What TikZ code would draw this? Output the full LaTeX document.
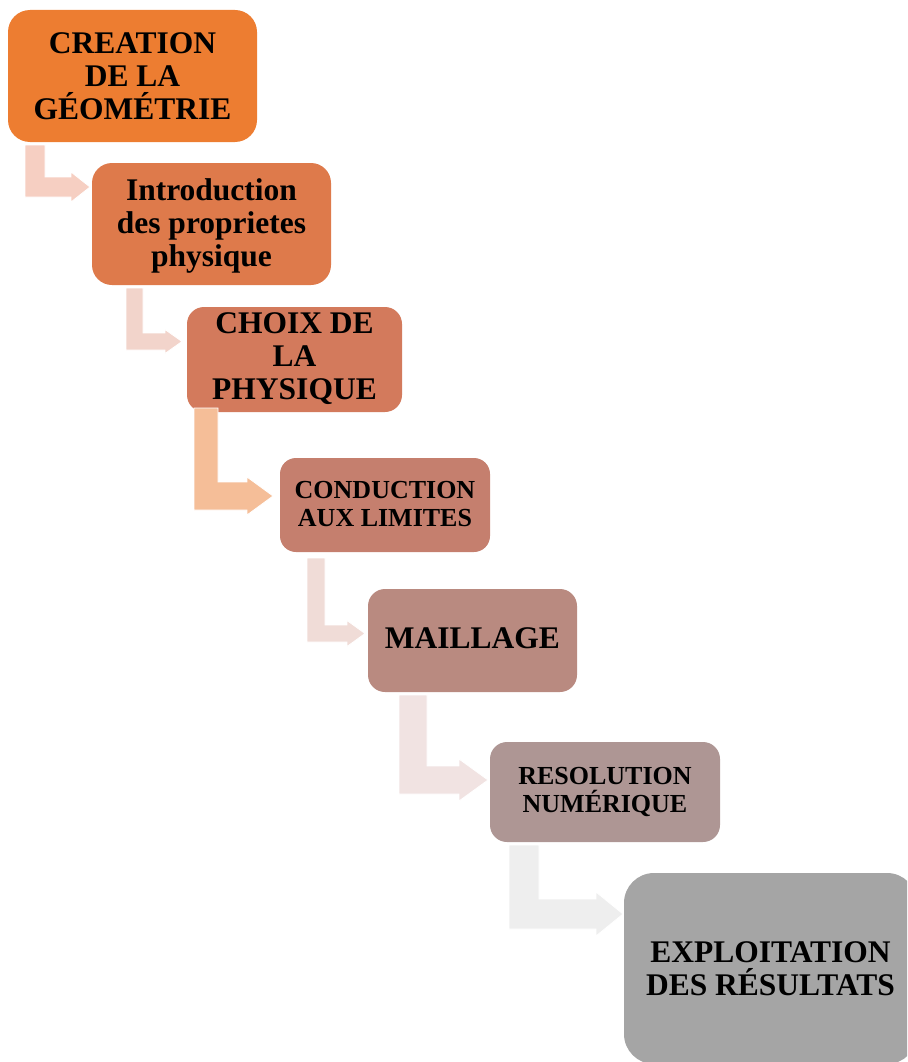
\documentclass[tikz,border=0pt]{standalone}
\usepackage{fontspec}
\setmainfont{Liberation Serif}
\definecolor{c1}{HTML}{ED7D31}
\definecolor{c2}{HTML}{DE7A4B}
\definecolor{c3}{HTML}{D37A5C}
\definecolor{c4}{HTML}{C57F6E}
\definecolor{c5}{HTML}{B98A80}
\definecolor{c6}{HTML}{AE9694}
\definecolor{c7}{HTML}{A5A5A5}
\definecolor{a1}{HTML}{F6CFC2}
\definecolor{a2}{HTML}{F2D4CB}
\definecolor{a3}{HTML}{F5BE98}
\definecolor{a4}{HTML}{F0DCD7}
\definecolor{a5}{HTML}{F1E3E2}
\definecolor{a6}{HTML}{EEEEEE}
\tikzset{
  box/.style={rectangle, inner sep=0pt, align=center, text=black,
    font=\fontsize{31.5}{33}\selectfont\bfseries},
  smallbox/.style={box, font=\fontsize{26}{28}\selectfont\bfseries},
  bentarrow/.style={draw=white, line width=0.8pt}
}
% #1 colour, #2 bar left x, #3 bar right x, #4 top y, #5 bar top y, #6 bar bottom y, #7 head base x, #8 head half height, #9 tip x
\newcommand{\bentarr}[9]{%
  \fill[#1, bentarrow] (#2,#4) -- (#3,#4) -- (#3,#5) -- (#7,#5)
    -- (#7,{(#5+#6)/2-#8}) -- (#9,{(#5+#6)/2}) -- (#7,{(#5+#6)/2+#8})
    -- (#7,#6) -- (#2,#6) -- cycle;}
\begin{document}
\begin{tikzpicture}[x=1pt,y=-1pt]
\useasboundingbox (0,0) rectangle (907,1062);
\clip (0,0) rectangle (907,1062);
% boxes
\fill[c1, rounded corners=22pt] (8,10) rectangle (257,142);
\node[box] (b1) at (132.5,76) {CREATION\\DE LA\\GÉOMÉTRIE};
\fill[c2, rounded corners=20pt] (92,163) rectangle (331,285);
\node[box] (b2) at (211.5,226) {Introduction\\des proprietes\\physique};
\fill[c3, rounded corners=17pt] (187,307) rectangle (402,412);
\node[box] (b3) at (294.5,359) {CHOIX DE\\LA\\PHYSIQUE};
\fill[c4, rounded corners=16pt] (280,458) rectangle (490,552);
\node[smallbox] (b4) at (385,504) {CONDUCTION\\AUX LIMITES};
\fill[c5, rounded corners=17pt] (368,589) rectangle (577,692);
\node[box] (b5) at (472.5,638.5) {MAILLAGE};
\fill[c6, rounded corners=17pt] (490,742) rectangle (720,842);
\node[smallbox] (b6) at (605,792) {RESOLUTION\\NUMÉRIQUE};
\fill[c7, rounded corners=30pt] (624,873) rectangle (917,1064);
\node[box] (b7) at (770.5,969) {EXPLOITATION\\DES RÉSULTATS};
% bent arrows
\bentarr{a1}{25}{45}{145}{177}{197}{71}{15}{90}
\bentarr{a2}{126}{143}{288}{333}{350}{165}{12}{182}
\bentarr{a3}{194}{218}{408}{482}{510}{247}{19}{273}
\bentarr{a4}{307}{325}{558}{625}{642}{347}{13}{365}
\bentarr{a5}{399}{427}{695}{766}{794}{459}{21}{488}
\bentarr{a6}{509}{539}{845}{899}{929}{596}{22}{623}
\end{tikzpicture}
\end{document}
